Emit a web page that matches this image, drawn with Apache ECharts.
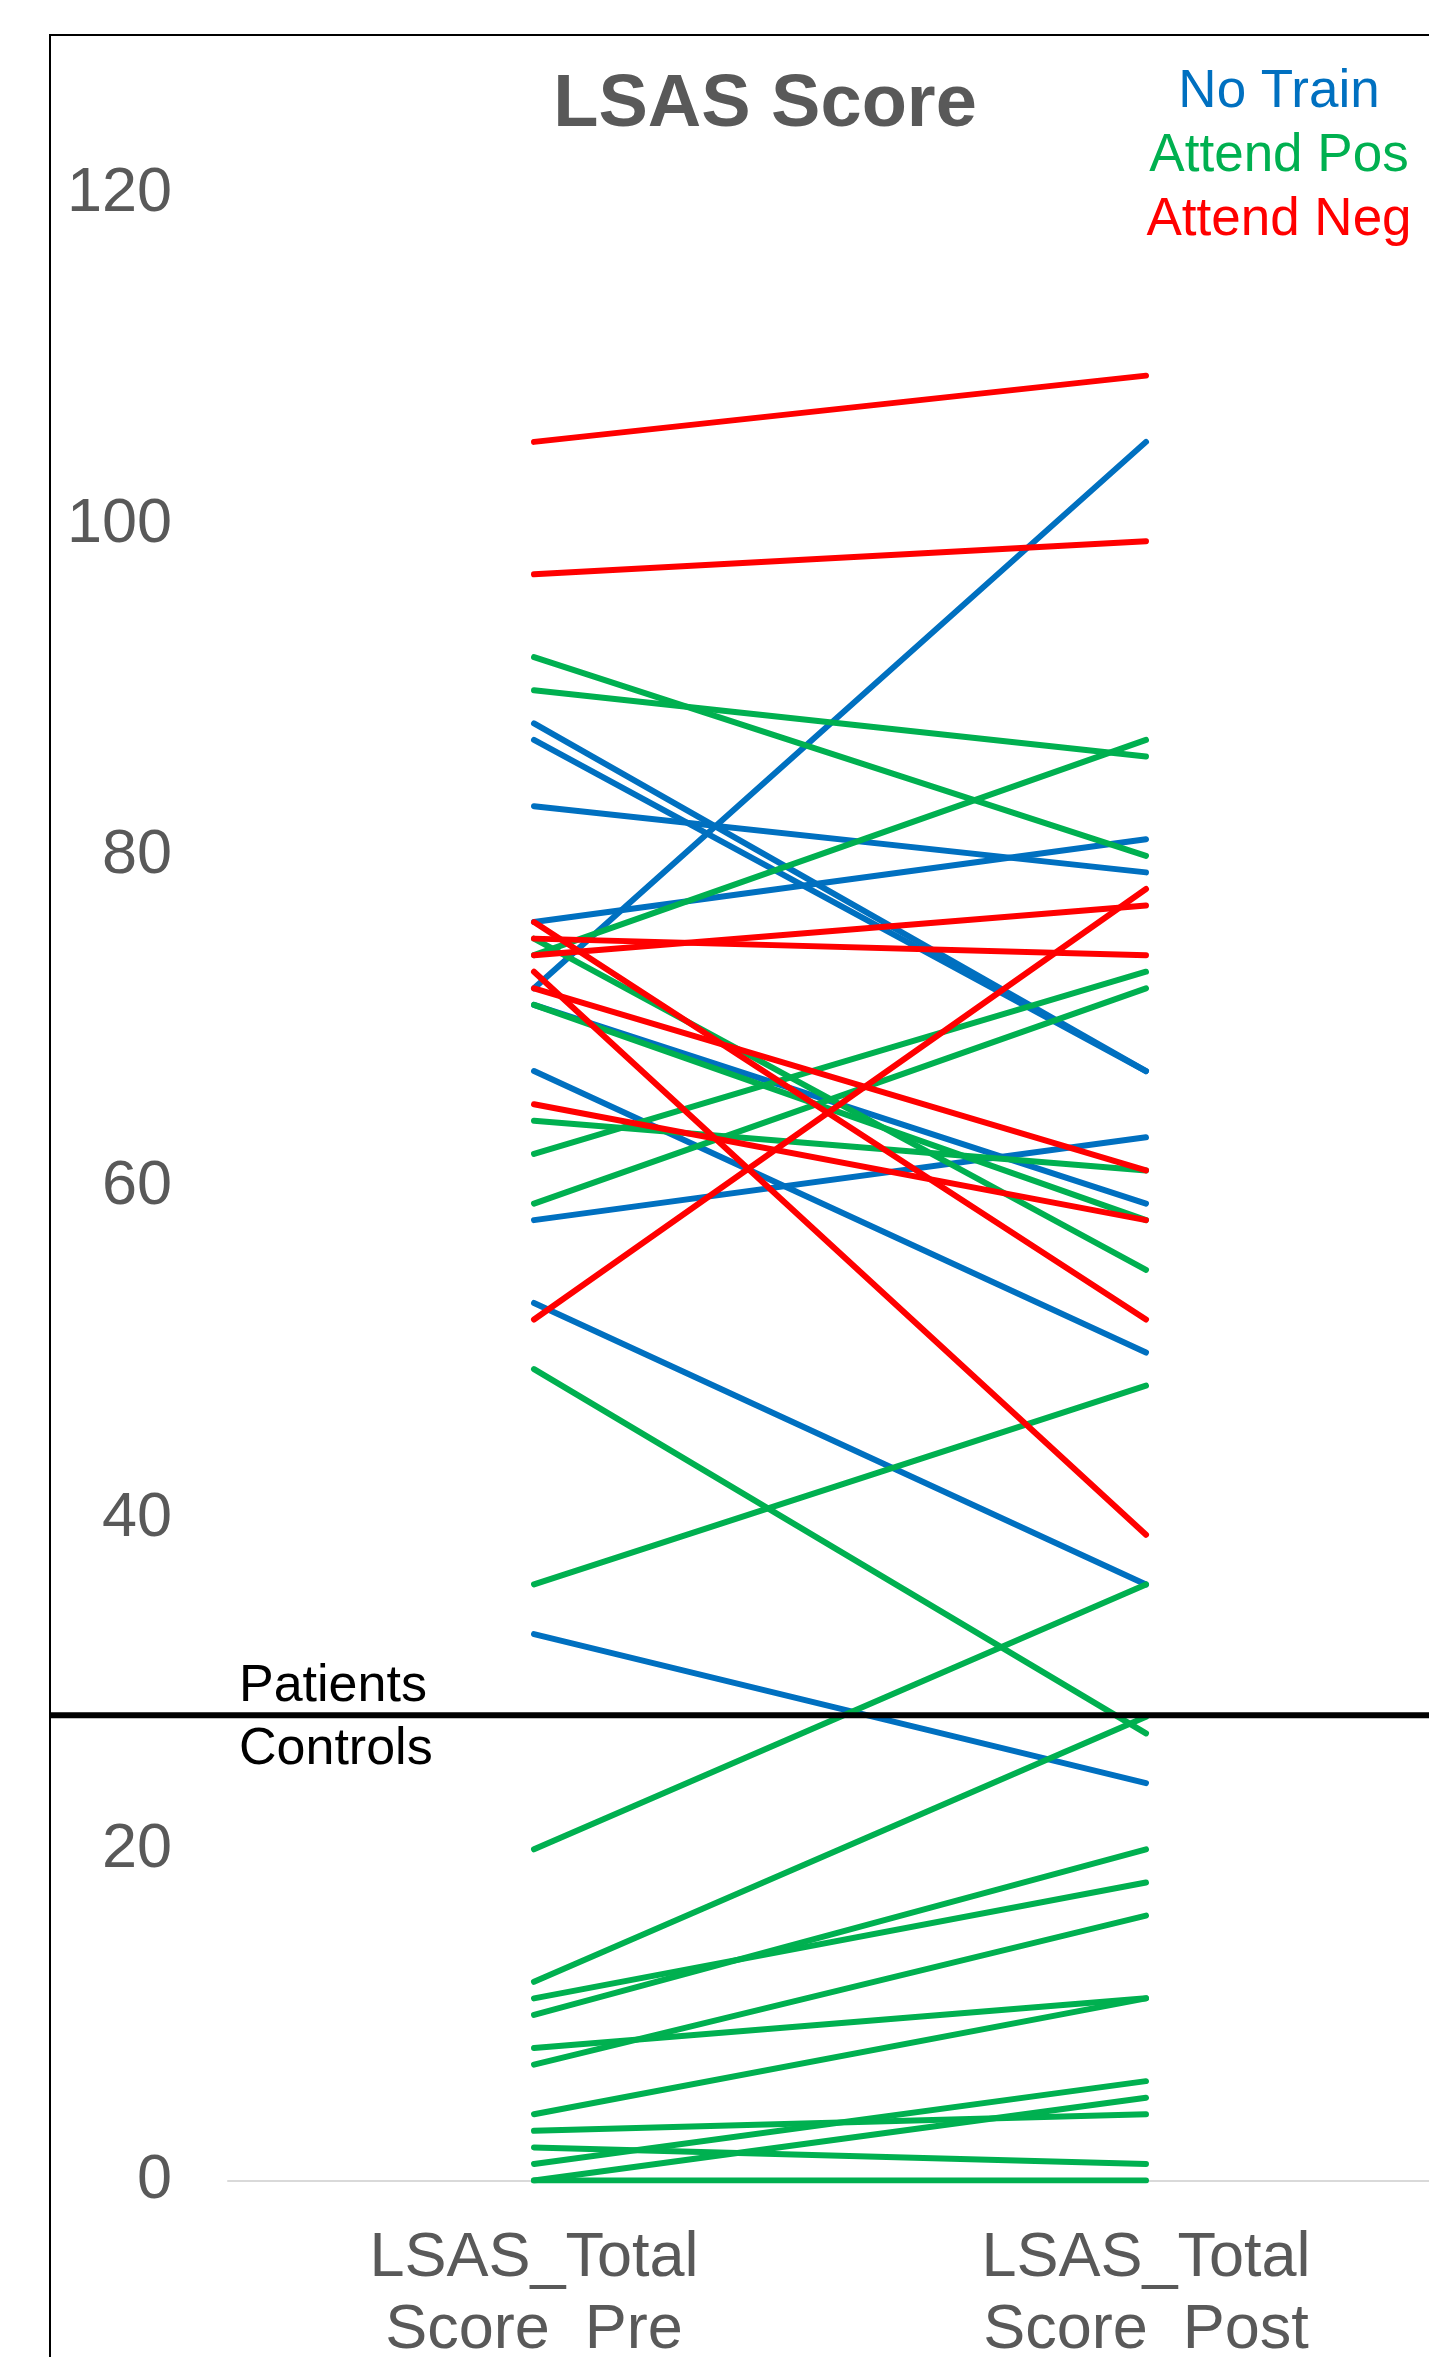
<!DOCTYPE html>
<html>
<head>
<meta charset="utf-8">
<title>LSAS Score</title>
<script src="https://cdn.jsdelivr.net/npm/echarts@6.0.0/dist/echarts.min.js"></script>
<style>
  html, body { margin: 0; padding: 0; background: #fff; }
  #mainChart { width: 1429px; height: 2357px; }
</style>
</head>
<body>
<div id="mainChart"></div>
<script>
// LSAS 前后测分数 (每个被试一条线)
var categories = ['LSAS_Total\nScore_Pre', 'LSAS_Total\nScore_Post'];

var noTrainPre  = [72, 88, 87, 83, 76, 71, 67, 58, 53, 33];
var noTrainPost = [105, 67, 67, 79, 81, 59, 50, 63, 36, 24];

var attendPosPre  = [92, 90, 74, 75, 64, 71, 62, 59, 49, 36, 20, 12, 11, 10, 8, 7, 4, 3, 2, 1, 0, 0];
var attendPosPost = [80, 86, 87, 55, 61, 58, 73, 72, 27, 48, 36, 28, 18, 20, 11, 16, 11, 4, 1, 6, 5, 0];

var attendNegPre  = [105, 97, 76, 75, 74, 73, 72, 65, 52];
var attendNegPost = [109, 99, 52, 74, 77, 39, 61, 58, 78];

var groupNames = ['No Train', 'Attend Pos', 'Attend Neg'];
var groupColors = ['#0070C0', '#00B050', '#FF0000'];

// 病人 / 对照 分界线
var cutoff = 28.1;

var yMin = 0, yMax = 120, yStep = 20;

var font = 'Liberation Sans, Arial, sans-serif';

var myChart = echarts.init(document.getElementById('mainChart'), null, { renderer: 'canvas' });

function buildSeries(pre, post, name, color) {
    var list = [];
    for (var i = 0; i < pre.length; i++) {
        list.push({
            name: name,
            type: 'line',
            data: [pre[i], post[i]],
            showSymbol: false,
            symbol: 'none',
            silent: true,
            animation: false,
            color: color,
            lineStyle: { width: 6, cap: 'round' }
        });
    }
    return list;
}

var series = []
    .concat(buildSeries(noTrainPre, noTrainPost, groupNames[0], groupColors[0]))
    .concat(buildSeries(attendPosPre, attendPosPost, groupNames[1], groupColors[1]))
    .concat(buildSeries(attendNegPre, attendNegPost, groupNames[2], groupColors[2]));

var option = {
    backgroundColor: '#ffffff',
    animation: false,
    grid: {
        left: 228,
        top: 193.5,
        width: 1224,
        height: 1987,
        containLabel: false,
        outerBoundsMode: 'none'
    },
    xAxis: {
        type: 'category',
        data: categories,
        boundaryGap: true,
        axisTick: { show: false },
        axisLine: { lineStyle: { color: '#D9D9D9', width: 2 } },
        axisLabel: {
            color: '#595959',
            fontSize: 63,
            lineHeight: 72,
            fontFamily: font,
            margin: 42,
            interval: 0
        },
        splitLine: { show: false }
    },
    yAxis: {
        type: 'value',
        min: yMin,
        max: yMax,
        interval: yStep,
        axisLine: { show: false },
        axisTick: { show: false },
        splitLine: { show: false },
        axisLabel: {
            color: '#595959',
            fontSize: 63,
            fontFamily: font,
            margin: 56
        }
    },
    series: series
};

myChart.setOption(option);

// 分界线位置从坐标轴换算
var cutY = myChart.convertToPixel({ yAxisIndex: 0 }, cutoff);

myChart.setOption({
    graphic: [
        {
            // 图表外框 (左, 上)
            type: 'polyline',
            silent: true,
            shape: { points: [[50, 2400], [50, 35], [1440, 35]] },
            style: { stroke: '#000', lineWidth: 2, fill: null }
        },
        {
            type: 'line',
            silent: true,
            shape: { x1: 50, y1: cutY, x2: 1440, y2: cutY },
            style: { stroke: '#000', lineWidth: 6 },
            z: 10
        },
        {
            type: 'text',
            silent: true,
            x: 239, y: cutY - 29,
            style: { text: 'Patients', fill: '#000', font: '52px ' + font, align: 'left', verticalAlign: 'middle' }
        },
        {
            type: 'text',
            silent: true,
            x: 239, y: cutY + 34,
            style: { text: 'Controls', fill: '#000', font: '52px ' + font, align: 'left', verticalAlign: 'middle' }
        },
        {
            type: 'text',
            silent: true,
            x: 765, y: 106,
            style: { text: 'LSAS Score', fill: '#595959', font: 'bold 74px ' + font, align: 'center', verticalAlign: 'middle' }
        },
        {
            type: 'text',
            silent: true,
            x: 1279, y: 92,
            style: { text: groupNames[0], fill: groupColors[0], font: '53px ' + font, align: 'center', verticalAlign: 'middle' }
        },
        {
            type: 'text',
            silent: true,
            x: 1279, y: 156,
            style: { text: groupNames[1], fill: groupColors[1], font: '53px ' + font, align: 'center', verticalAlign: 'middle' }
        },
        {
            type: 'text',
            silent: true,
            x: 1279, y: 220,
            style: { text: groupNames[2], fill: groupColors[2], font: '53px ' + font, align: 'center', verticalAlign: 'middle' }
        }
    ]
});
</script>
</body>
</html>
